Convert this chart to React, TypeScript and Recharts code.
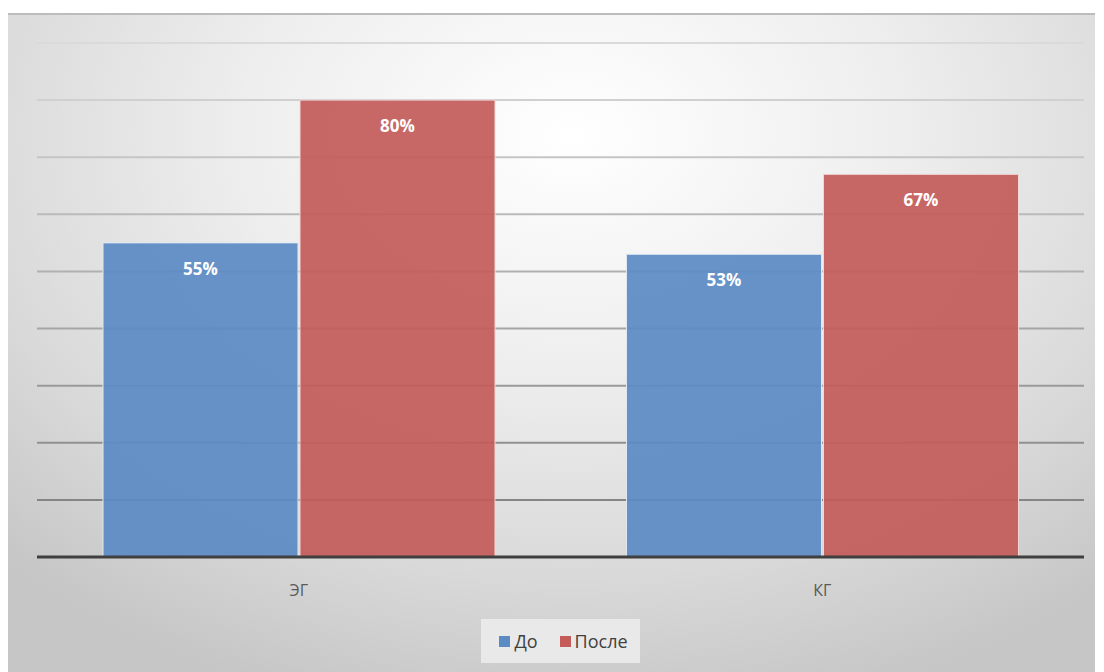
import { BarChart, Bar, XAxis, YAxis, CartesianGrid, Legend, LabelList } from 'recharts';

const groups = ['ЭГ', 'КГ'];
const before = [0.55, 0.53];
const after = [0.8, 0.67];
const yTicks = [0, 0.1, 0.2, 0.3, 0.4, 0.5, 0.6, 0.7, 0.8, 0.9];

const data = groups.map((g, i) => ({ group: g, before: before[i], after: after[i] }));

const BLUE = '#5b8bc4';
const RED = '#c45c5a';
const W = 1088;
const H = 660;
const TOP = 30;
const BOTTOM_Y = 543;

const pct = (v: any) => `${Math.round(Number(v) * 100)}%`;

// lines fade from light at the top to mid gray near the axis
const GridLine = (props: any) => {
  const { x1, x2, y1, y2 } = props;
  const t = Math.max(0, Math.min(1, (y1 - TOP) / (BOTTOM_Y - TOP)));
  const c = Math.round(218 - t * 96);
  return <line x1={x1} x2={x2} y1={y1} y2={y2} stroke={`rgb(${c},${c},${c})`} strokeWidth={2} />;
};

const LegendBox = () => (
  <div style={{ display: 'flex', justifyContent: 'center' }}>
    <div
      style={{
        display: 'flex',
        alignItems: 'center',
        gap: 4,
        padding: '10px 12px 10px 18px',
        background: 'rgba(235,235,235,0.9)',
        fontFamily: 'Open Sans, sans-serif',
        fontSize: 18,
        color: '#404040',
      }}
    >
      <span style={{ width: 11, height: 11, background: BLUE, display: 'inline-block' }} />
      <span style={{ marginRight: 18 }}>До</span>
      <span style={{ width: 11, height: 11, background: RED, display: 'inline-block' }} />
      <span>После</span>
    </div>
  </div>
);

export default function App() {
  return (
    <div
      style={{
        marginLeft: -1,
        marginTop: 5,
        width: W,
        height: H,
        borderTop: '2px solid #bcbcbc',
        boxSizing: 'border-box',
        background:
          'radial-gradient(ellipse 75% 90% at 52% 18%, #ffffff 0%, #eeeeee 40%, #d9d9d9 75%, #c6c6c6 100%)',
      }}
    >
      <BarChart
        width={W}
        height={H - 2}
        data={data}
        margin={{ top: TOP - 2, right: 11, left: 30, bottom: 8 }}
        barCategoryGap={66}
        barGap={2}
      >
        <CartesianGrid vertical={false} horizontal={<GridLine />} />
        <XAxis
          dataKey="group"
          axisLine={{ stroke: '#3f3f3f', strokeWidth: 3 }}
          tickLine={false}
          tick={{ fill: '#595959', fontSize: 16, fontFamily: 'Open Sans, sans-serif' }}
          tickMargin={22}
          height={62}
        />
        <YAxis domain={[0, 0.9]} ticks={yTicks} hide />
        <Legend verticalAlign="bottom" height={46} content={<LegendBox />} />
        <Bar dataKey="before" name="До" fill={BLUE} fillOpacity={0.93} stroke="#dfe8f2" strokeWidth={1} isAnimationActive={false}>
          <LabelList
            dataKey="before"
            position="insideTop"
            offset={20}
            formatter={pct}
            style={{ fill: '#ffffff', fontSize: 17, fontWeight: 700, fontFamily: 'Open Sans, sans-serif' }}
          />
        </Bar>
        <Bar dataKey="after" name="После" fill={RED} fillOpacity={0.93} stroke="#f0d8d8" strokeWidth={1} isAnimationActive={false}>
          <LabelList
            dataKey="after"
            position="insideTop"
            offset={20}
            formatter={pct}
            style={{ fill: '#ffffff', fontSize: 17, fontWeight: 700, fontFamily: 'Open Sans, sans-serif' }}
          />
        </Bar>
      </BarChart>
    </div>
  );
}
